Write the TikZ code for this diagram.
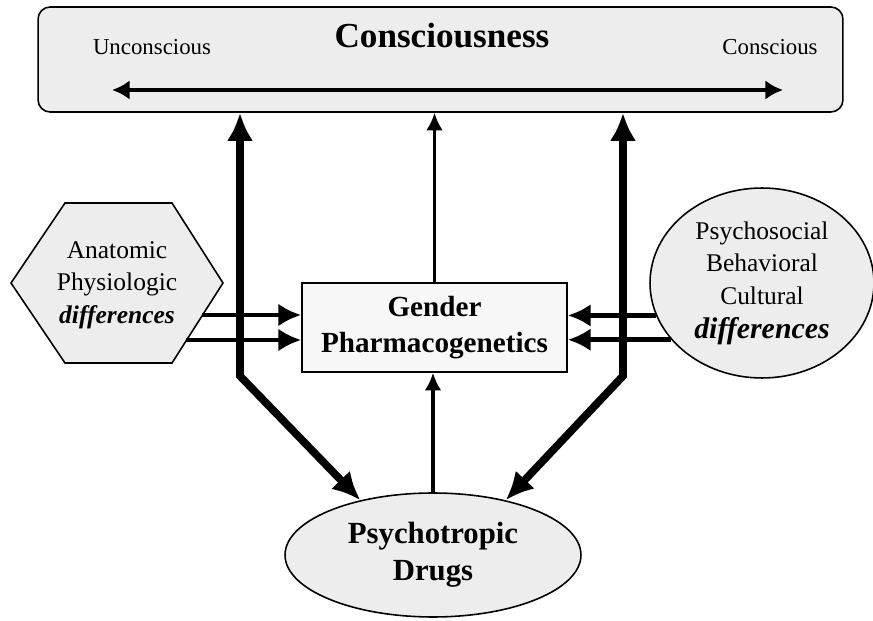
\documentclass[tikz,border=0pt]{standalone}
\usepackage{fontspec}
\setmainfont{Liberation Serif}
\usetikzlibrary{arrows.meta,shapes.geometric}

\tikzset{
  speck/.style={fill=black!7},
  edge/.style={draw,line width=0.9pt},
  thk/.style={line width=4.4pt,{Latex[length=16pt,width=15pt]}-{Latex[length=16pt,width=15pt]}},
  mid/.style={line width=2.8pt,-{Latex[length=13pt,width=13pt]}},
  thn/.style={line width=1.8pt,-{Latex[length=10pt,width=9.5pt]}},
  dbl/.style={line width=2.6pt,{Latex[length=10pt,width=11pt]}-{Latex[length=10pt,width=11pt]}},
}

\begin{document}
\begin{tikzpicture}[x=0.02cm,y=-0.02cm]
\useasboundingbox (0,0) rectangle (873,621);

\node[edge,speck,rounded corners=0.24cm,minimum width=16.1cm,minimum height=2.1cm] (top) at (440.5,59.5) {};
\node[font=\fontsize{20}{22}\selectfont\bfseries] (cons) at (442,36) {Consciousness};
\node[font=\fontsize{13}{15}\selectfont] (unc) at (152,47) {Unconscious};
\node[font=\fontsize{13}{15}\selectfont] (con) at (770,47) {Conscious};
\coordinate (ul) at (112,90);
\coordinate (ur) at (783,90);
\draw[dbl] (ul) -- (ur);

\draw[edge,speck] (11,283) -- (65,203) -- (172,203) -- (223,283) -- (172,363) -- (65,363) -- cycle;
\node[align=center,font=\fontsize{14.5}{18.4}\selectfont] (anat) at (117,285)
  {Anatomic\\Physiologic\\\textbf{\textit{differences}}};

\node[edge,fill=black!3,minimum width=5.3cm,minimum height=1.78cm,align=center,
  font=\fontsize{16.6}{20.5}\selectfont\bfseries] (gen) at (434.5,327.5) {Gender\\Pharmacogenetics};

\node[edge,speck,ellipse,minimum width=4.48cm,minimum height=3.8cm,align=center,inner sep=0pt,
  font=\fontsize{14.5}{18.5}\selectfont] (psy) at (762,283)
  {Psychosocial\\Behavioral\\Cultural\\[1pt]{\fontsize{17}{18}\selectfont\bfseries\itshape differences}};

\node[edge,speck,ellipse,minimum width=5.92cm,minimum height=2.48cm,align=center,inner sep=0pt,
  font=\fontsize{17.5}{20}\selectfont\bfseries] (drg) at (433,555) {Psychotropic\\[1pt]Drugs};

\coordinate (kl) at (240,376);
\coordinate (kr) at (623,376);
\coordinate (al) at (202,315);
\coordinate (bl) at (186,340);

\draw[thk] (top.south -| kl) -- (kl) -- (drg.143);
\draw[thk] (top.south -| kr) -- (kr) -- (drg.37);
\draw[thn] (gen.north) -- (top.south -| gen.north);
\draw[thn] (drg.north) -- (drg.north |- gen.south);

\draw[mid] (al) -- (al -| gen.west);
\draw[mid] (bl) -- (bl -| gen.west);
\draw[mid] (psy.197) -- (psy.197 -| gen.east);
\draw[mid] (psy.212) -- (psy.212 -| gen.east);
\end{tikzpicture}
\end{document}
